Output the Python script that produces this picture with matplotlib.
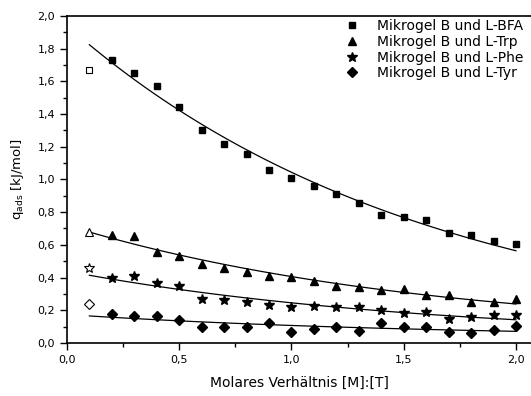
import numpy as np
import matplotlib
matplotlib.use("Agg")
import matplotlib.pyplot as plt
from matplotlib.ticker import MultipleLocator, FuncFormatter

x = [0.1, 0.2, 0.3, 0.4, 0.5, 0.6, 0.7, 0.8, 0.9, 1.0,
     1.1, 1.2, 1.3, 1.4, 1.5, 1.6, 1.7, 1.8, 1.9, 2.0]
bfa = [1.67, 1.73, 1.65, 1.57, 1.44, 1.305, 1.215, 1.158, 1.058, 1.011,
       0.960, 0.911, 0.854, 0.783, 0.773, 0.752, 0.675, 0.663, 0.626, 0.606]
trp = [0.68, 0.661, 0.656, 0.555, 0.534, 0.481, 0.461, 0.432, 0.412, 0.406,
       0.379, 0.349, 0.341, 0.324, 0.328, 0.294, 0.294, 0.253, 0.253, 0.267]
phe = [0.457, 0.396, 0.410, 0.369, 0.349, 0.269, 0.263, 0.253, 0.232, 0.218,
       0.226, 0.218, 0.218, 0.202, 0.181, 0.191, 0.145, 0.161, 0.171, 0.171]
tyr = [0.237, 0.176, 0.165, 0.165, 0.141, 0.100, 0.100, 0.100, 0.120, 0.065,
       0.084, 0.100, 0.075, 0.120, 0.100, 0.100, 0.069, 0.059, 0.080, 0.104]
labels = ["Mikrogel B und L-BFA", "Mikrogel B und L-Trp",
          "Mikrogel B und L-Phe", "Mikrogel B und L-Tyr"]
markers = ["s", "^", "*", "D"]
msizes = [5, 6, 7.5, 5]


def expdec_fit(xs, ys):
    """First-order exponential decay y = A*exp(-x/t) + y0 (grid search on t)."""
    best = None
    for t in np.linspace(1.6, 30, 800):
        M = np.column_stack([np.exp(-xs / t), np.ones_like(xs)])
        sol, *_ = np.linalg.lstsq(M, ys, rcond=None)
        err = np.sum((M @ sol - ys) ** 2)
        if best is None or err < best[0]:
            best = (err, t, sol)
    _, t, (A, y0) = best
    return lambda v: A * np.exp(-v / t) + y0


plt.rcParams['font.family'] = ['DejaVu Sans']
fig = plt.figure(figsize=(5.31, 3.96), dpi=100)
ax = fig.add_axes([0.126, 0.134, 0.874, 0.826])

xa = np.array(x)
xf = np.linspace(0.1, 2.0, 100)
handles = []
for ys, m, ms, lab in zip([bfa, trp, phe, tyr], markers, msizes, labels):
    ya = np.array(ys)
    f = expdec_fit(xa[1:], ya[1:])
    ax.plot(xf, f(xf), color="black", lw=0.9)
    h, = ax.plot(xa[1:], ya[1:], linestyle="none", marker=m, ms=ms,
                 color="black", label=lab)
    ax.plot(xa[:1], ya[:1], linestyle="none", marker=m, ms=ms,
            markerfacecolor="white", markeredgecolor="black", markeredgewidth=0.8)
    handles.append(h)

ax.set_xlim(0, 2.067)
ax.set_ylim(0, 2.0)
ax.xaxis.set_major_locator(MultipleLocator(0.5))
ax.xaxis.set_minor_locator(MultipleLocator(0.25))
ax.yaxis.set_major_locator(MultipleLocator(0.2))
ax.yaxis.set_minor_locator(MultipleLocator(0.1))
fmt = FuncFormatter(lambda v, p: ("%.1f" % v).replace(".", ","))
ax.xaxis.set_major_formatter(fmt)
ax.yaxis.set_major_formatter(fmt)
ax.tick_params(which="major", direction="out", length=5, width=1, labelsize=8)
ax.tick_params(which="minor", direction="out", length=3, width=1)
ax.spines["right"].set_visible(False)
for s in ["left", "bottom", "top"]:
    ax.spines[s].set_linewidth(1.2)

ax.set_xlabel("Molares Verhältnis [M]:[T]", fontsize=10, labelpad=8)
ax.set_ylabel(r"q$_{\rm ads}$ [kJ/mol]", fontsize=9.5, labelpad=8)

ax.legend(handles=handles, loc="upper right", frameon=False, fontsize=10,
          handletextpad=1.3, borderaxespad=0.05, borderpad=0.2,
          labelspacing=0.12, handlelength=1.0, bbox_to_anchor=(0.99, 1.0))

fig.savefig("out.png", dpi=100)
